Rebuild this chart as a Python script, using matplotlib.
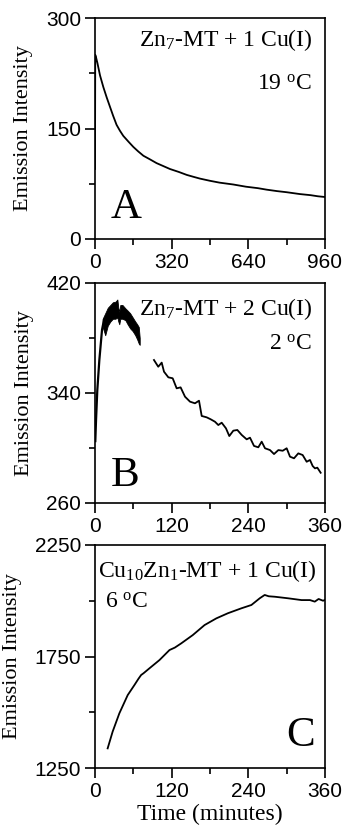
"""Emission intensity vs time for three Cu(I) additions to MT (panels A, B, C)."""
import numpy as np
import matplotlib; matplotlib.use("Agg")
import matplotlib.pyplot as plt

plt.rcParams["mathtext.default"] = "regular"
SERIF = "Liberation Serif"
SANS = "Liberation Sans"

# --- Panel A: Zn7-MT + 1 Cu(I), 19 C ---
a_t = [0, 1, 4, 10, 21, 35, 49, 63, 76, 90, 104, 118, 140, 160, 180, 202, 230,
       257, 285, 313, 350, 383, 410, 438, 480, 520, 577, 630, 680, 716, 760,
       800, 855, 900, 930, 960]
a_y = [95, 250, 247, 239, 222, 206, 192, 179, 167, 155, 147, 140, 132, 125, 119,
       113, 108, 103, 99, 95, 91, 87, 84.5, 82, 79, 76.5, 74, 71, 69, 67, 65,
       63.5, 61, 59.5, 58, 57]

# --- Panel B: Zn7-MT + 2 Cu(I), 2 C ---
b_rise_t = [0.5, 1.6, 3.6, 6.8, 11, 14]
b_rise_y = [305, 320, 342, 364, 386, 393]
# noisy early part, drawn as a band (lower / upper envelope)
b_band_t = [12, 16, 20, 24, 28, 32, 35, 36.5, 38, 39.6, 43, 47.5, 51, 55, 59, 63, 66, 68.5, 70]
b_band_lo = [388, 382, 389, 392, 394, 394, 395, 392, 390, 394, 394, 393, 390, 387, 385, 382, 379, 376, 375]
b_band_hi = [394, 398, 402, 404, 406, 406.4, 408, 402, 399, 404, 404, 401.6, 400, 398, 395, 392, 390, 388, 380]
b_late_t = [92.3, 99, 104.4, 108, 114.8, 121.6, 127.8, 134, 140.9, 148.7, 156.5,
            162.8, 167, 174.8, 181, 187.8, 193, 198.3, 205, 210.2, 216.5, 222.8,
            229.6, 237.4, 242.6, 248.9, 255.6, 260.9, 266.1, 273.9, 280.2, 287,
            293.8, 300, 305.2, 311.5, 318.2, 325, 331.3, 336.5, 340.7, 344.3,
            348, 353.2]
b_late_y = [364, 359.1, 362.1, 355.5, 351.4, 350.7, 343.4, 344.1, 337.3, 333.7,
            332.5, 334.4, 323.3, 322.3, 320.9, 319.1, 316.7, 318.4, 314.3, 308.7,
            312.6, 313.1, 309.5, 306.3, 307.5, 301.5, 300.5, 304.6, 299.8, 298.5,
            295.6, 298.5, 298, 299.8, 293.7, 292.5, 296.1, 294.9, 290, 291.3,
            286.9, 285.2, 285.7, 282]

# --- Panel C: Cu10Zn1-MT + 1 Cu(I), 6 C ---
c_t = [19.8, 27.6, 38.1, 51.2, 61.7, 68, 72.2, 76, 85.2, 100.9, 116.6, 125,
       135, 153, 171.5, 189.9, 208, 229, 244.8, 257.8, 265.6, 272, 281.4,
       302.3, 323.3, 336.5, 344, 350, 357, 360]
c_y = [1338, 1413, 1495, 1577, 1622, 1650, 1667, 1675, 1697, 1734, 1779, 1790,
       1809, 1846, 1891, 1921, 1944, 1966, 1981, 2011, 2026, 2020, 2018, 2011,
       2003, 2003, 1996, 2008, 2000, 2004]

# tick values
a_xticks, a_yticks = [0, 320, 640, 960], [0, 150, 300]
b_xticks, b_yticks = [0, 120, 240, 360], [260, 340, 420]
c_xticks, c_yticks = [0, 120, 240, 360], [1250, 1750, 2250]

fig = plt.figure(figsize=(3.43, 8.32), dpi=100)
L, W = 95 / 343, 230 / 343
axA = fig.add_axes([L, 1 - 239 / 832, W, 221 / 832])
axB = fig.add_axes([L, 1 - 503 / 832, W, 220 / 832])
axC = fig.add_axes([L, 1 - 768 / 832, W, 223 / 832])

lw = 1.3
axA.plot(a_t, a_y, color="black", lw=lw)
axB.plot(b_rise_t, b_rise_y, color="black", lw=lw + 0.3)
axB.fill_between(b_band_t, b_band_lo, b_band_hi, color="black", lw=0.6, edgecolor="black")
axB.plot(b_late_t, b_late_y, color="black", lw=lw)
axC.plot(c_t, c_y, color="black", lw=lw)

for ax, xt, yt in [(axA, a_xticks, a_yticks), (axB, b_xticks, b_yticks), (axC, c_xticks, c_yticks)]:
    ax.set_xlim(xt[0], xt[-1]); ax.set_ylim(yt[0], yt[-1])
    ax.set_xticks(xt)
    ax.set_xticks([(p + q) / 2 for p, q in zip(xt[:-1], xt[1:])], minor=True)
    ax.set_yticks(yt)
    ax.set_yticks([(p + q) / 2 for p, q in zip(yt[:-1], yt[1:])], minor=True)
    ax.tick_params(which="major", direction="out", length=7, width=1.2, labelsize=15, pad=3)
    ax.tick_params(which="minor", direction="out", length=4, width=1.2)
    for lab in ax.get_xticklabels() + ax.get_yticklabels():
        lab.set_family(SANS)
    for s in ax.spines.values():
        s.set_linewidth(1.2)
    ax.set_ylabel("Emission Intensity", family=SERIF, fontsize=16, labelpad=9)

axC.set_xlabel("Time (minutes)", family=SERIF, fontsize=17, labelpad=2)

tk = dict(family=SERIF, fontsize=17)
big = dict(family=SERIF, fontsize=31)
axA.text(0.945, 0.873, "Zn$_7$-MT + 1 Cu(I)", transform=axA.transAxes, ha="right", va="baseline", **tk)
axA.text(0.945, 0.674, "19 $^o$C", transform=axA.transAxes, ha="right", va="baseline", **tk)
axA.text(0.07, 0.095, "A", transform=axA.transAxes, ha="left", va="baseline", **big)

axB.text(0.945, 0.855, "Zn$_7$-MT + 2 Cu(I)", transform=axB.transAxes, ha="right", va="baseline", **tk)
axB.text(0.945, 0.695, "2 $^o$C", transform=axB.transAxes, ha="right", va="baseline", **tk)
axB.text(0.07, 0.075, "B", transform=axB.transAxes, ha="left", va="baseline", **big)

axC.text(0.015, 0.857, "Cu$_{10}$Zn$_1$-MT + 1 Cu(I)", transform=axC.transAxes, ha="left", va="baseline", **tk)
axC.text(0.045, 0.717, "6 $^o$C", transform=axC.transAxes, ha="left", va="baseline", **tk)
axC.text(0.955, 0.10, "C", transform=axC.transAxes, ha="right", va="baseline", **big)

fig.savefig("out.png", dpi=100)
